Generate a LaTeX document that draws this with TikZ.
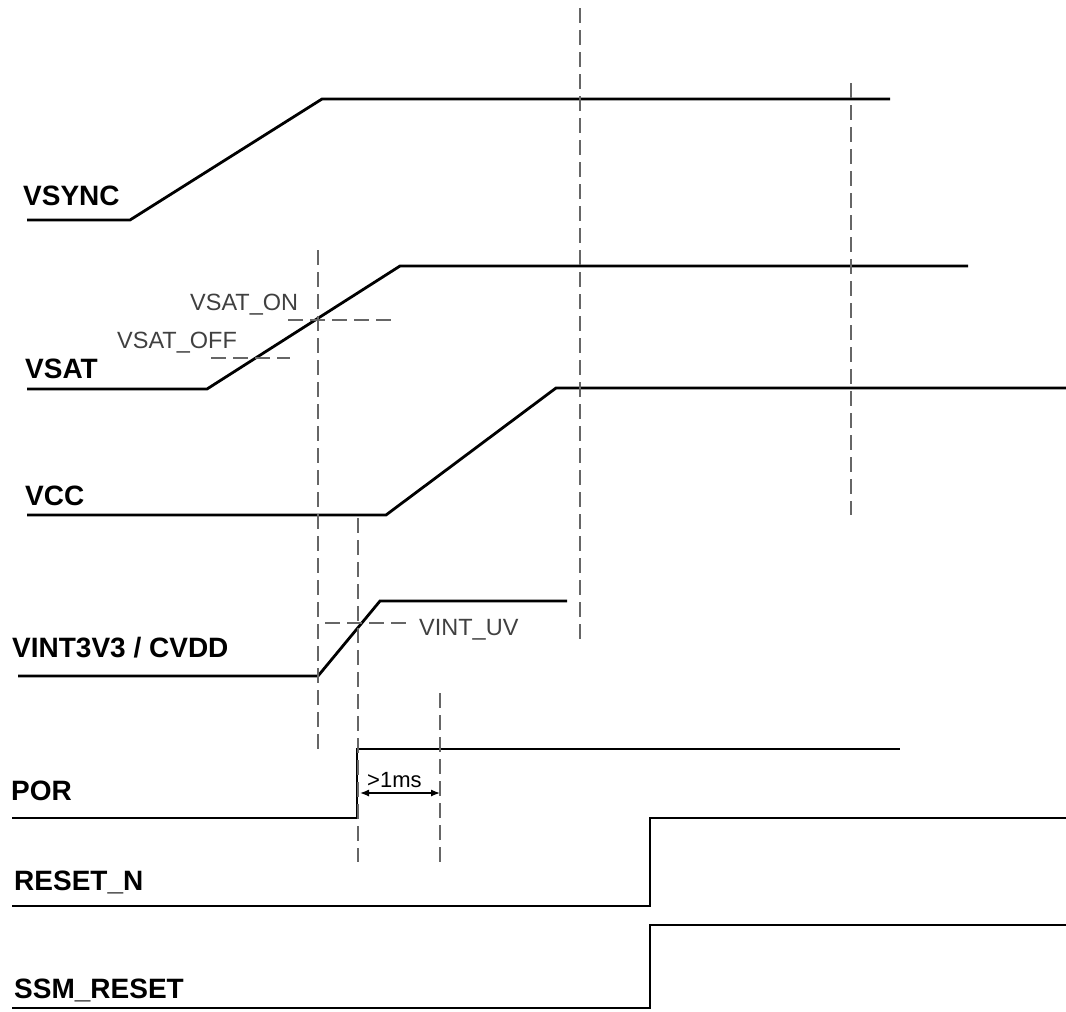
\documentclass[tikz,border=0pt]{standalone}
\usepackage{fontspec}
\setmainfont{Liberation Sans}
\usetikzlibrary{arrows.meta}
\begin{document}
\begin{tikzpicture}[x=1pt,y=-1pt,
  sig/.style={line width=2.8pt,black,line join=miter},
  guide/.style={line width=1.8pt,black!60,dash pattern=on 15pt off 7pt},
  siglabel/.style={anchor=base west,inner sep=0pt,font=\fontsize{28}{31}\selectfont\bfseries},
  thr/.style={anchor=base west,inner sep=0pt,text=black!75,font=\fontsize{23.5}{26}\selectfont},
  dim/.style={line width=1.3pt,black,{Latex[length=9pt,width=7pt]}-{Latex[length=9pt,width=7pt]}}]
\useasboundingbox (0,0) rectangle (1066,1012);
% labels
\node[siglabel] (lvsync) at (23,205) {VSYNC};
\node[siglabel] (lvsat) at (25,378) {VSAT};
\node[siglabel] (lvcc) at (25,505) {VCC};
\node[siglabel] (lvint) at (12,657) {VINT3V3 / CVDD};
\node[siglabel] (lpor) at (11,800) {POR};
\node[siglabel] (lrst) at (14,890) {RESET\_N};
\node[siglabel] (lssm) at (14,998) {SSM\_RESET};
% VSYNC
\coordinate (a0) at (27,220); \coordinate (a1) at (130,220);
\coordinate (a2) at (322,99); \coordinate (a3) at (890,99);
\draw[sig] (a0) -- (a1) -- (a2) -- (a3);
% VSAT
\coordinate (b0) at (27,389); \coordinate (b1) at (207,389);
\coordinate (b2) at (400,266); \coordinate (b3) at (968,266);
\draw[sig] (b0) -- (b1) -- (b2) -- (b3);
% VCC
\coordinate (c0) at (27,515); \coordinate (c1) at (386,515);
\coordinate (c2) at (556,388); \coordinate (c3) at (1066,388);
\draw[sig] (c0) -- (c1) -- (c2) -- (c3);
% VINT
\coordinate (d0) at (18,676); \coordinate (d1) at (318,676);
\coordinate (d2) at (380,601); \coordinate (d3) at (567,601);
\draw[sig] (d0) -- (d1) -- (d2) -- (d3);
% POR
\coordinate (e0) at (12,818); \coordinate (e1) at (357,818);
\coordinate (e2) at (357,749); \coordinate (e3) at (900,749);
\draw[sig] (e0) -- (e1) -- (e2) -- (e3);
% RESET_N
\coordinate (f0) at (12,906); \coordinate (f1) at (650,906);
\coordinate (f2) at (650,818); \coordinate (f3) at (1066,818);
\draw[sig] (f0) -- (f1) -- (f2) -- (f3);
% SSM_RESET
\coordinate (g0) at (12,1008); \coordinate (g1) at (650,1008);
\coordinate (g2) at (650,925); \coordinate (g3) at (1066,925);
\draw[sig] (g0) -- (g1) -- (g2) -- (g3);
% vertical guides
\coordinate (v1t) at (318,250); \coordinate (v1b) at (318,752);
\coordinate (v2t) at (358,518); \coordinate (v2b) at (358,862);
\coordinate (v3t) at (440,693); \coordinate (v3b) at (440,862);
\coordinate (v4t) at (580,8); \coordinate (v4b) at (580,640);
\coordinate (v5t) at (851,83); \coordinate (v5b) at (851,515);
\draw[guide] (v1t) -- (v1b);
\draw[guide] (v2t) -- (v2b);
\draw[guide] (v3t) -- (v3b);
\draw[guide] (v4t) -- (v4b);
\draw[guide] (v5t) -- (v5b);
% horizontal thresholds
\coordinate (h1l) at (288,320); \coordinate (h1r) at (392,320);
\coordinate (h2l) at (211,358); \coordinate (h2r) at (290,358);
\coordinate (h3l) at (325,623); \coordinate (h3r) at (408,623);
\draw[guide] (h1l) -- (h1r);
\draw[guide] (h2l) -- (h2r);
\draw[guide] (h3l) -- (h3r);
\node[thr] (ton) at (190,310) {VSAT\_ON};
\node[thr] (toff) at (117,348) {VSAT\_OFF};
\node[thr] (tuv) at (419,635) {VINT\_UV};
% >1ms
\coordinate (m1) at (360,793); \coordinate (m2) at (440,793);
\draw[dim] (m1) -- (m2);
\node[anchor=base west,inner sep=0pt,font=\fontsize{22}{24}\selectfont] (tms) at (367,787) {>1ms};
\end{tikzpicture}
\end{document}
